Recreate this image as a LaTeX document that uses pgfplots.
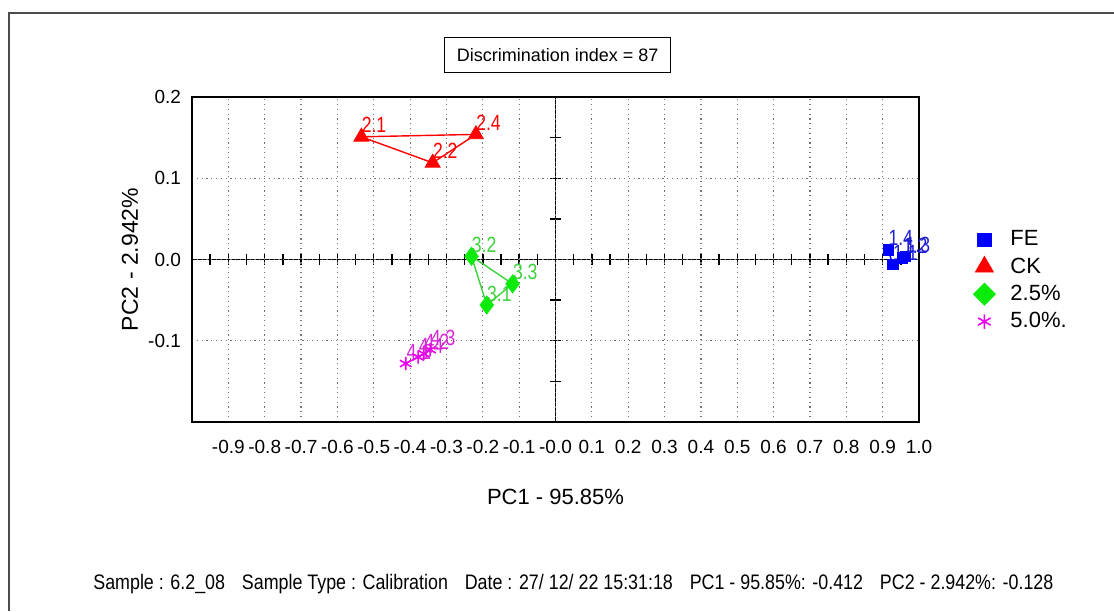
\documentclass[border=0pt]{standalone}
\usepackage{pgfplots}
\pgfplotsset{compat=1.18}
\usepackage{pgfplotstable}
\usepackage{fontspec}
\setmainfont{Liberation Sans}
\newfontfamily\narrowfont{Liberation Sans}[FakeStretch=0.8]
\newfontfamily\footfont{Liberation Sans}[FakeStretch=0.85]

\definecolor{FEblue}{RGB}{0,0,255}
\definecolor{FElab}{RGB}{30,30,210}
\definecolor{CKred}{RGB}{255,0,0}
\definecolor{Ggreen}{RGB}{10,235,10}
\definecolor{Gline}{RGB}{60,210,60}
\definecolor{Mmag}{RGB}{235,0,235}
\definecolor{Mlab}{RGB}{215,40,215}

\pgfplotstableread{
x y lab
0.915 0.012 1.4
0.928 -0.006 1.1
0.955 0.002 1.2
0.962 0.004 1.3
}\FE
\pgfplotstableread{
x y lab
-0.534 0.151 2.1
-0.338 0.119 2.2
-0.219 0.154 2.4
}\CK
\pgfplotstableread{
x y lab
-0.189 -0.056 3.1
-0.231 0.004 3.2
-0.118 -0.030 3.3
}\GA
\pgfplotstableread{
x y lab
-0.412 -0.128 4.1
-0.362 -0.116 4.2
-0.345 -0.111 4.3
-0.378 -0.120 4.4
}\GB

\begin{document}
\begin{tikzpicture}
\useasboundingbox (0,0) rectangle (557pt,-305.5pt);
\draw[line width=1pt, black!70] (4.5pt,-305.5pt) -- (4.5pt,-6.5pt) -- (557pt,-6.5pt);

% central cross axes with ticks
\begin{axis}[
  at={(96pt,-211pt)}, anchor=south west,
  scale only axis, width=363.5pt, height=162.5pt,
  xmin=-1, xmax=1, ymin=-0.2, ymax=0.2,
  axis lines=middle, axis line style={-, line width=0.9pt},
  xtick={-0.95,-0.9,-0.85,-0.8,-0.75,-0.7,-0.65,-0.6,-0.55,-0.5,-0.45,-0.4,-0.35,-0.3,-0.25,-0.2,-0.15,-0.1,-0.05,0.05,0.1,0.15,0.2,0.25,0.3,0.35,0.4,0.45,0.5,0.55,0.6,0.65,0.7,0.75,0.8,0.85,0.9,0.95},
  ytick={-0.15,-0.1,-0.05,0.05,0.1,0.15},
  xticklabels={}, yticklabels={},
  tick align=center, major tick length=5.5pt,
  tick style={line width=0.7pt, black},
]
\end{axis}

\begin{axis}[
  at={(96pt,-211pt)}, anchor=south west,
  scale only axis, width=363.5pt, height=162.5pt,
  xmin=-1, xmax=1, ymin=-0.2, ymax=0.2,
  clip=false,
  axis line style={line width=0.9pt},
  xtick={-0.9,-0.8,-0.7,-0.6,-0.5,-0.4,-0.3,-0.2,-0.1,0,0.1,0.2,0.3,0.4,0.5,0.6,0.7,0.8,0.9,1.0},
  xticklabels={-0.9,-0.8,-0.7,-0.6,-0.5,-0.4,-0.3,-0.2,-0.1,-0.0,0.1,0.2,0.3,0.4,0.5,0.6,0.7,0.8,0.9,1.0},
  ytick={-0.1,0,0.1,0.2},
  yticklabels={-0.1,0.0,0.1,0.2},
  major tick length=0pt,
  grid=major,
  major grid style={black!55, line width=0.6pt, dash pattern=on 0.6pt off 1.8pt},
  tick label style={font=\fontsize{9.5}{10}\selectfont},
  xticklabel style={yshift=-5.5pt},
  yticklabel style={xshift=-2pt},
  xlabel={PC1 - 95.85\%}, ylabel={PC2 - 2.942\%},
  xlabel style={at={(axis description cs:0.5,-0.231)}, anchor=center, font=\fontsize{11}{13}\selectfont},
  ylabel style={at={(axis description cs:-0.0853,0.5)}, anchor=center, font=\fontsize{11.5}{13}\selectfont},
  title={Discrimination index = 87},
  title style={draw, line width=0.6pt, at={(axis description cs:0.503,1.093)}, anchor=center,
    font=\fontsize{9}{11}\selectfont, inner xsep=6pt, minimum height=17.5pt},
  legend style={at={(axis description cs:1.066,0.615)}, anchor=north west, draw=none, fill=none,
    font=\fontsize{11}{12}\selectfont, row sep=0.5pt,
    /tikz/every odd column/.append style={column sep=5.5pt}},
  legend cell align=left,
  every node near coord/.append style={anchor=base west, inner sep=0pt, yshift=2pt,
    font=\narrowfont\fontsize{11}{12}\selectfont},
]
\addlegendimage{only marks, mark=square*, mark size=3.3pt, FEblue}
\addlegendentry{FE}
\addlegendimage{only marks, mark=triangle*, mark size=5.2pt, CKred}
\addlegendentry{CK}
\addlegendimage{only marks, mark=square*, mark size=3.9pt, mark options={rotate=45}, Ggreen}
\addlegendentry{2.5\%}
\addlegendimage{only marks, mark=asterisk, mark size=3.6pt, Mmag, mark options={line width=0.8pt}}
\addlegendentry{5.0\%.}

% connecting lines
\addplot[FEblue, line width=0.7pt, forget plot] coordinates {(0.915,0.012) (0.928,-0.006) (0.955,0.002) (0.962,0.004)};
\addplot[CKred, line width=0.7pt, forget plot] coordinates {(-0.534,0.151) (-0.219,0.154) (-0.338,0.119) (-0.534,0.151)};
\addplot[Gline, line width=0.7pt, forget plot] coordinates {(-0.231,0.004) (-0.118,-0.030) (-0.189,-0.056) (-0.231,0.004)};
\addplot[Mmag, line width=0.7pt, forget plot] coordinates {(-0.412,-0.128) (-0.378,-0.120) (-0.362,-0.116) (-0.345,-0.111)};

% markers with labels
\addplot[only marks, mark=square*, mark size=2.6pt, FEblue, forget plot,
  nodes near coords, point meta=explicit symbolic,
  every node near coord/.append style={text=FElab}] table[meta=lab] {\FE};
\addplot[only marks, mark=triangle*, mark size=4.3pt, CKred, forget plot,
  nodes near coords, point meta=explicit symbolic,
  every node near coord/.append style={text=CKred}] table[meta=lab] {\CK};
\addplot[only marks, mark=diamond*, mark size=4.5pt, Ggreen, forget plot,
  nodes near coords, point meta=explicit symbolic,
  every node near coord/.append style={text=Gline}] table[meta=lab] {\GA};
\addplot[only marks, mark=asterisk, mark size=3.3pt, Mmag, mark options={line width=0.8pt}, forget plot,
  nodes near coords, point meta=explicit symbolic,
  every node near coord/.append style={text=Mlab}] table[meta=lab] {\GB};
\end{axis}

\node[anchor=base west, inner sep=0pt, font=\footfont\fontsize{10.5}{12}\selectfont] at (46.5pt,-294.5pt)
  {\makebox[480pt][l]{Sample : 6.2\_08\hfill Sample Type : Calibration\hfill Date : 27/ 12/ 22 15:31:18\hfill PC1 - 95.85\%: -0.412\hfill PC2 - 2.942\%: -0.128}};
\end{tikzpicture}
\end{document}
